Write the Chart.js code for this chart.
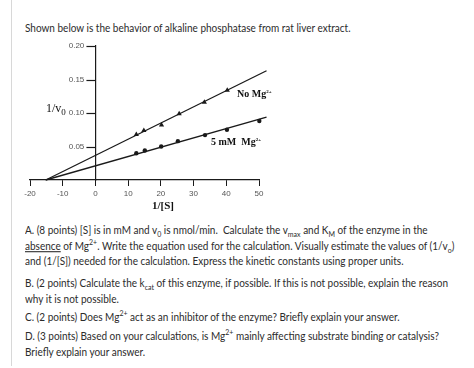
<!DOCTYPE html>
<html>
<head>
<meta charset="utf-8">
<script src="https://cdn.jsdelivr.net/npm/chart.js@4.4.0/dist/chart.umd.min.js"></script>
<style>
  html, body { margin: 0; padding: 0; background: #fff; }
  body { width: 474px; height: 368px; position: relative; overflow: hidden; font-family: Lato, "Open Sans", sans-serif; color: #2b2b2b; }
  .rule { position: absolute; left: 11px; top: 0; width: 1px; height: 366px; background: #d8d8d8; }
  .txt { position: absolute; left: 25px; font-size: 10px; line-height: 14.5px; white-space: nowrap; transform-origin: 0 0; transform: scaleY(1.08); }
  .txt sub, .txt sup { font-size: 7px; line-height: 0; }
  #wrap { position: absolute; left: 0; top: 0; width: 300px; height: 220px; }
  .lbl { position: absolute; font-family: "Liberation Serif", "DejaVu Serif", serif; color: #111; white-space: nowrap; }
  .lbl sup { font-size: 5px; }
</style>
</head>
<body>
<div class="rule"></div>
<div class="txt" style="top:20px">Shown below is the behavior of alkaline phosphatase from rat liver extract.</div>

<div id="wrap"><canvas id="chart" width="300" height="220"></canvas></div>
<div class="lbl" style="left:46px; top:101px; font-size:12px;">1/v<sub style="font-size:9px">0</sub></div>
<div class="lbl" style="left:152px; top:199px; font-size:11px; font-weight:bold;">1/[S]</div>
<div class="lbl" style="left:237px; top:88px; font-size:10px; font-weight:bold;">No Mg<sup>2+</sup></div>
<div class="lbl" style="left:211px; top:136px; font-size:10px; font-weight:bold;">5 mM&nbsp; Mg<sup>2+</sup></div>

<div class="txt" style="top:222px">A. (8 points) [S] is in mM and v<sub>0</sub> is nmol/min.&nbsp; Calculate the v<sub>max</sub> and K<sub>M</sub> of the enzyme in the<br><u>absence</u> of Mg<sup>2+</sup>. Write the equation used for the calculation. Visually estimate the values of (1/v<sub>o</sub>)<br>and (1/[S]) needed for the calculation. Express the kinetic constants using proper units.</div>
<div class="txt" style="top:275px">B. (2 points) Calculate the k<sub>cat</sub> of this enzyme, if possible. If this is not possible, explain the reason<br>why it is not possible.</div>
<div class="txt" style="top:309px">C. (2 points) Does Mg<sup>2+</sup> act as an inhibitor of the enzyme? Briefly explain your answer.</div>
<div class="txt" style="top:328px">D. (3 points) Based on your calculations, is Mg<sup>2+</sup> mainly affecting substrate binding or catalysis?<br>Briefly explain your answer.</div>

<script>
// 1/[S] values, per series
const noMgX = [12.5, 14.8, 20.2, 25.6, 33.3, 40.3, 52.1];
const noMgY = [0.068, 0.074, 0.082, 0.099, 0.116, 0.134, 0.171];
const mg5X = [12.5, 15.1, 20.1, 25.2, 33.5, 40.2, 50.1];
const mg5Y = [0.040, 0.044, 0.050, 0.058, 0.067, 0.075, 0.088];

// fitted lines (both meet on the x axis)
const fitX = [-15.2, 52.3];
const noMgFit = [0, 0.163];
const mg5Fit = [0, 0.094];

const xTicks = [-20, -10, 0, 10, 20, 30, 40, 50];
const yTicks = [0, 0.05, 0.10, 0.15, 0.20];

const pts = (xs, ys) => xs.map((x, i) => ({ x: x, y: ys[i] }));

const ink = '#1a1a1a';
const tickFont = { family: 'Liberation Sans', size: 8 };

// the y axis sits at x = 0, so its tick marks are drawn here, left of the axis line
const yTickMarks = {
  id: 'yTickMarks',
  afterDraw(chart) {
    const { ctx, scales } = chart;
    const x0 = scales.x.getPixelForValue(0);
    ctx.save();
    ctx.strokeStyle = ink;
    ctx.lineWidth = 1.2;
    yTicks.forEach((v) => {
      if (v === 0) return;
      const y = Math.round(scales.y.getPixelForValue(v)) + 0.5;
      ctx.beginPath();
      ctx.moveTo(x0 - 9, y);
      ctx.lineTo(x0, y);
      ctx.stroke();
    });
    ctx.restore();
  },
};

new Chart(document.getElementById('chart'), {
  type: 'scatter',
  data: {
    datasets: [
      {
        data: pts(fitX, noMgFit),
        showLine: true,
        borderColor: ink,
        borderWidth: 1.3,
        pointRadius: 0,
        clip: false,
      },
      {
        data: pts(fitX, mg5Fit),
        showLine: true,
        borderColor: ink,
        borderWidth: 1.3,
        pointRadius: 0,
        clip: false,
      },
      {
        data: pts(noMgX, noMgY),
        pointStyle: 'triangle',
        pointRadius: 3,
        backgroundColor: ink,
        borderColor: ink,
        borderWidth: 0,
        clip: false,
      },
      {
        data: pts(mg5X, mg5Y),
        pointStyle: 'circle',
        pointRadius: 2.2,
        backgroundColor: ink,
        borderColor: ink,
        borderWidth: 0,
        clip: false,
      },
    ],
  },
  plugins: [yTickMarks],
  options: {
    responsive: false,
    animation: false,
    layout: {
      padding: { left: 30, right: 41, top: 46, bottom: 0 },
    },
    plugins: {
      legend: { display: false },
      tooltip: { enabled: false },
    },
    scales: {
      x: {
        type: 'linear',
        position: 'bottom',
        min: -20,
        max: 50,
        afterBuildTicks: (scale) => {
          scale.ticks = xTicks.map((v) => ({ value: v }));
        },
        afterFit: (scale) => {
          scale.height = 40;
        },
        ticks: {
          font: tickFont,
          color: '#555',
          padding: 3,
          maxRotation: 0,
          callback: (value) => String(value),
        },
        grid: {
          drawOnChartArea: false,
          drawTicks: true,
          tickLength: 6,
          color: ink,
        },
        border: { color: ink, width: 1.2 },
      },
      y: {
        type: 'linear',
        position: { x: 0 },
        min: 0,
        max: 0.2,
        afterBuildTicks: (scale) => {
          scale.ticks = yTicks.map((v) => ({ value: v }));
        },
        ticks: {
          font: tickFont,
          color: '#555',
          // labels are right-aligned on the axis line; trailing figure spaces push them clear of the tick marks
          callback: (value) => (value === 0 ? '' : value.toFixed(2) + '\u2007\u2007 '),
        },
        grid: {
          display: false,
        },
        border: { color: ink, width: 1.2 },
      },
    },
  },
});
</script>
</body>
</html>
